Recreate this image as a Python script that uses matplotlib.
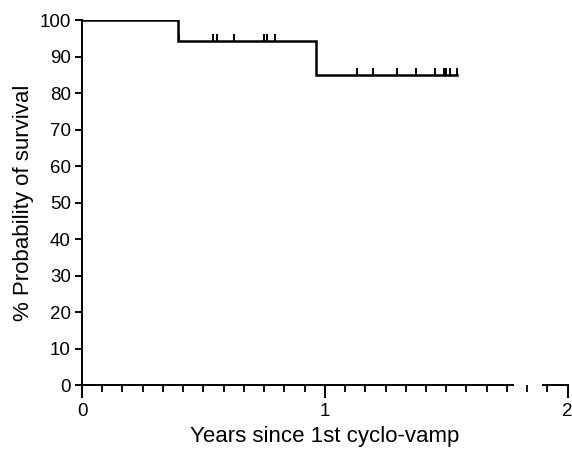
import numpy as np
import matplotlib
matplotlib.use("Agg")
import matplotlib.pyplot as plt

plt.rcParams['font.family'] = ['Liberation Sans', 'DejaVu Sans']

# Kaplan-Meier steps (years, % surviving)
step_times = [0.0, 0.395, 0.962, 1.544]
step_surv = [100.0, 94.4, 85.0, 85.0]

# censored observations
censor_times = [0.40, 0.539, 0.556, 0.626, 0.749, 0.761, 0.794,
                1.133, 1.199, 1.298, 1.374, 1.453, 1.491, 1.501, 1.514, 1.544]


def surv_at(t):
    idx = np.searchsorted(step_times[:-1], t, side='right') - 1
    return step_surv[idx]


censor_surv = [surv_at(t) for t in censor_times]

fig = plt.figure(figsize=(5.72, 4.49), dpi=100)
ax = fig.add_axes([0.1434, 0.1425, 0.849, 0.8125])

ax.step(step_times, step_surv, where='post', color='black', lw=1.8,
        solid_joinstyle='miter')
ax.plot(censor_times, censor_surv, linestyle='none', color='black',
        marker=[(0, 0), (0, 1)], markersize=10, markeredgewidth=1.4)

ax.set_xlim(0, 2)
ax.set_ylim(0, 100)
ax.set_xticks([0, 1, 2])
ax.set_xticks(np.arange(0, 2.01, 1 / 12), minor=True)
ax.set_yticks(np.arange(0, 101, 10))

for s in ['top', 'right']:
    ax.spines[s].set_visible(False)
ax.spines['left'].set_linewidth(1.4)
ax.spines['bottom'].set_linewidth(1.4)
ax.spines['bottom'].set_bounds(0, 1.775)
# broken axis piece at far right (as printed)
ax.plot([1.9, 2.0], [0, 0], color='black', lw=1.4, clip_on=False)

ax.tick_params(axis='x', which='major', direction='out', length=9, width=1.4,
               labelsize=13.5, pad=4)
ax.tick_params(axis='x', which='minor', direction='out', length=5, width=1.3)
ax.tick_params(axis='y', direction='out', length=5, width=1.4, labelsize=13.5, pad=3)

ax.set_xlabel('Years since 1st cyclo-vamp', fontsize=16, labelpad=4)
ax.set_ylabel('% Probability of survival', fontsize=16, labelpad=4)

fig.savefig('out.png', dpi=100)
